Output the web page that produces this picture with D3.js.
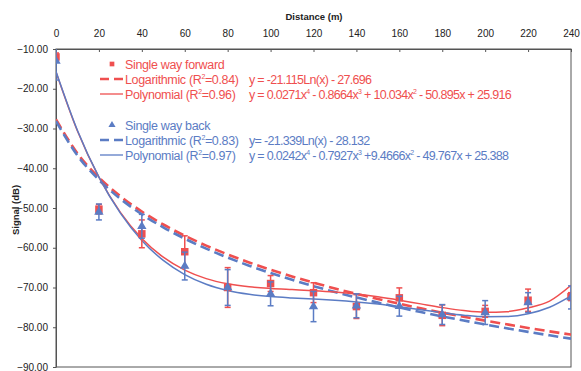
<!DOCTYPE html>
<html><head><meta charset="utf-8">
<script src="https://cdn.jsdelivr.net/npm/d3@7"></script>
<style>
html,body{margin:0;padding:0;background:#fff;}
svg{display:block;font-family:"Liberation Sans",Arial,sans-serif;}
</style></head>
<body>
<svg id="chart" width="581" height="371"></svg>
<script>
// ---------- data ----------
const distances = [0,20,40,60,80,100,120,140,160,180,200,220,240];
const xTicks = [0,20,40,60,80,100,120,140,160,180,200,220,240];
const yTicks = [-10,-20,-30,-40,-50,-60,-70,-80,-90];

const fwdMean = [-12,-50.3,-56.5,-61,-70,-69,-71.3,-74.8,-72.6,-77,-76,-73.2,-72.3];
const fwdErr  = [1,1.2,3.5,4,5,2,2.5,3,2.5,2.6,1.5,2.8,1];
const backMean = [-13,-51,-54.6,-64.6,-70,-71.6,-74.8,-74.6,-74.7,-76.8,-76.3,-73.8,-72.5];
const backErr  = [4.8,2,3,3.5,4.5,3,3.8,3,2.5,2.5,3,2.5,2.9];

const curveDist = [0,10,20,30,40,50,60,70,80,90,100,110,120,130,140,150,160,170,180,190,200,210,220,230,240];
const fwdLog  = [-27.70,-36.26,-42.33,-47.04,-50.89,-54.15,-56.97,-59.46,-61.68,-63.69,-65.53,-67.22,-68.78,-70.24,-71.60,-72.88,-74.09,-75.23,-76.32,-77.35,-78.33,-79.26,-80.17,-81.03,-81.85];
const backLog = [-28.13,-36.79,-42.92,-47.69,-51.58,-54.87,-57.71,-60.23,-62.48,-64.51,-66.37,-68.07,-69.66,-71.13,-72.50,-73.80,-75.02,-76.17,-77.27,-78.31,-79.30,-80.25,-81.16,-82.03,-82.87];
const fwdPoly = [-15.78,-30.64,-42.24,-51.09,-57.66,-62.38,-65.63,-67.76,-69.07,-69.83,-70.25,-70.53,-70.79,-71.15,-71.66,-72.35,-73.19,-74.12,-75.03,-75.80,-76.22,-76.09,-75.12,-73.43,-69.45];
const backPoly = [-15.68,-30.52,-42.23,-51.30,-58.16,-63.19,-66.75,-69.18,-70.75,-71.71,-72.28,-72.63,-72.91,-73.22,-73.63,-74.16,-74.82,-75.57,-76.32,-76.97,-77.36,-77.31,-76.60,-74.97,-72.11];

const legendFwd = ["Single way forward",
  ["Logarithmic (R^2=0.84)", "y = -21.115Ln(x) - 27.696"],
  ["Polynomial (R^2=0.96)", "y = 0.0271x^4 - 0.8664x^3 + 10.034x^2 - 50.895x + 25.916"]];
const legendBack = ["Single way back",
  ["Logarithmic (R^2=0.83)", "y= -21.339Ln(x) - 28.132"],
  ["Polynomial (R^2=0.97)", "y = 0.0242x^4 - 0.7927x^3 +9.4666x^2 - 49.767x + 25.388"]];

const RED = "#ef4f4f", BLUE = "#5b7cc4";

// ---------- layout ----------
const svg = d3.select("#chart");
const L = 56, R = 571, T = 49, B = 367;
const x = d3.scaleLinear().domain([0,240]).range([L,R]);
const y = d3.scaleLinear().domain([-10,-90]).range([T,B]);

svg.append("defs").append("clipPath").attr("id","clip")
  .append("rect").attr("x",L).attr("y",T).attr("width",R-L).attr("height",B-T);

// axes
const xa = svg.append("g").attr("transform",`translate(0,${T})`)
  .call(d3.axisTop(x).tickValues(xTicks).tickSizeInner(-3).tickSizeOuter(0).tickPadding(12).tickFormat(d3.format("d")));
const ya = svg.append("g").attr("transform",`translate(${L},0)`)
  .call(d3.axisLeft(y).tickValues(yTicks).tickSizeInner(3).tickSizeOuter(0).tickPadding(5).tickFormat(d3.format(".2f")));
[xa,ya].forEach(a=>{
  a.selectAll("text").attr("font-size",10).attr("fill","#222").attr("font-family","Liberation Sans, Arial, sans-serif");
  a.selectAll("line").attr("stroke","#555");
  a.select(".domain").attr("stroke","#555");
});

// frame
svg.append("rect").attr("x",L).attr("y",T).attr("width",R-L).attr("height",B-T)
  .attr("fill","none").attr("stroke","#555").attr("stroke-width",1);

// titles
svg.append("text").attr("x",314).attr("y",20).attr("text-anchor","middle")
  .attr("font-size",9.5).attr("font-weight","bold").attr("fill","#222").text("Distance (m)");
svg.append("text").attr("transform","translate(19,210) rotate(-90)").attr("text-anchor","middle")
  .attr("font-size",9.5).attr("font-weight","bold").attr("fill","#222").text("Signal (dB)");

// curves
const plot = svg.append("g").attr("clip-path","url(#clip)");
const line = d3.line().x((d,i)=>x(curveDist[i])).y(d=>y(d)).curve(d3.curveMonotoneX);
function drawCurve(vals,color,dashed){
  plot.append("path").attr("d",line(vals)).attr("fill","none").attr("stroke",color)
    .attr("stroke-width",dashed?2.6:1.5).attr("stroke-dasharray",dashed?"10,5":null);
}
drawCurve(fwdLog,RED,true);
drawCurve(backLog,BLUE,true);
drawCurve(fwdPoly,RED,false);
drawCurve(backPoly,BLUE,false);

// error bars + markers
function drawPoints(means,errs,color,shape){
  const g = plot.append("g");
  distances.forEach((d,i)=>{
    const cx = x(d), top = y(means[i]+errs[i]), bot = y(means[i]-errs[i]);
    g.append("line").attr("x1",cx).attr("x2",cx).attr("y1",top).attr("y2",bot).attr("stroke",color).attr("stroke-width",1.5);
    g.append("line").attr("x1",cx-3).attr("x2",cx+3).attr("y1",top).attr("y2",top).attr("stroke",color).attr("stroke-width",1.5);
    g.append("line").attr("x1",cx-3).attr("x2",cx+3).attr("y1",bot).attr("y2",bot).attr("stroke",color).attr("stroke-width",1.5);
  });
  g.selectAll("path.m").data(means).enter().append("path")
    .attr("transform",(v,i)=>`translate(${x(distances[i])},${y(v)})`)
    .attr("d",d3.symbol().type(shape).size(shape===d3.symbolSquare?56:38))
    .attr("fill",color);
}
drawPoints(fwdMean,fwdErr,RED,d3.symbolSquare);
drawPoints(backMean,backErr,BLUE,d3.symbolTriangle);

// legend
function richText(sel,str){
  const parts = str.split(/(\^\d)/).filter(p=>p.length);
  let pending = 0;
  parts.forEach(p=>{
    if(p.startsWith("^")){
      sel.append("tspan").attr("dy",-5+pending).attr("font-size",7).text(p.slice(1));
      pending = 5;
    } else {
      sel.append("tspan").attr("dy",pending).text(p);
      pending = 0;
    }
  });
}
function drawLegend(items,color,y0,shape){
  const lg = svg.append("g").attr("fill",color).attr("font-size",12.5).attr("letter-spacing",-0.35);
  lg.append("path").attr("transform",`translate(112,${y0})`)
    .attr("d",d3.symbol().type(shape).size(22)).attr("fill",color);
  lg.append("text").attr("x",125).attr("y",y0+4.5).text(items[0]);
  [1,2].forEach(k=>{
    const yy = y0 + 15*k;
    lg.append("line").attr("x1",100).attr("x2",123).attr("y1",yy).attr("y2",yy)
      .attr("stroke",color).attr("stroke-width",k===1?2.6:1.3).attr("stroke-dasharray",k===1?"9,5":null);
    richText(lg.append("text").attr("x",125).attr("y",yy+4.5),items[k][0]);
    richText(lg.append("text").attr("x",249).attr("y",yy+4.5).attr("letter-spacing",-0.7),items[k][1]);
  });
}
drawLegend(legendFwd,RED,64,d3.symbolSquare);
drawLegend(legendBack,BLUE,125,d3.symbolTriangle);
</script>
</body></html>
